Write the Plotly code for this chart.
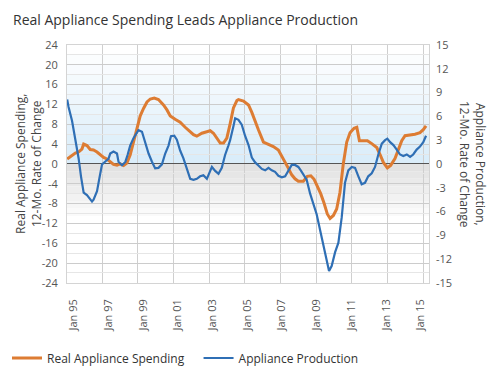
import plotly.graph_objects as go

# ---- data (decimal years; spending on left axis, production on right axis) ----
spend_x = [1994.63, 1994.81, 1995.10, 1995.29, 1995.48, 1995.58, 1995.77, 1995.96, 1996.15, 1996.35,
           1996.54, 1996.73, 1996.92, 1997.11, 1997.30, 1997.50, 1997.69, 1997.88, 1998.07, 1998.26,
           1998.45, 1998.65, 1998.84, 1999.03, 1999.23, 1999.42, 1999.65, 1999.89, 2000.18, 2000.38,
           2000.57, 2000.85, 2001.14, 2001.43, 2001.72, 2001.91, 2002.10, 2002.39, 2002.68, 2002.87,
           2003.06, 2003.26, 2003.45, 2003.64, 2003.83, 2004.02, 2004.21, 2004.41, 2004.50, 2004.79,
           2005.08, 2005.27, 2005.46, 2005.65, 2005.94, 2006.23, 2006.51, 2006.80, 2007.00, 2007.19,
           2007.38, 2007.57, 2007.76, 2007.95, 2008.24, 2008.47, 2008.67, 2008.86, 2009.05, 2009.24,
           2009.43, 2009.62, 2009.78, 2009.97, 2010.16, 2010.35, 2010.54, 2010.74, 2010.93, 2011.16,
           2011.32, 2011.47, 2011.70, 2011.93, 2012.18, 2012.47, 2012.66, 2012.85, 2013.08, 2013.27,
           2013.52, 2013.71, 2013.91, 2014.10, 2014.38, 2014.67, 2014.96, 2015.15, 2015.31]
spend_y = [1.0, 1.45, 2.2, 2.4, 3.0, 4.0, 3.7, 2.9, 2.8, 2.4,
           1.8, 1.3, 1.0, 0.5, -0.1, -0.25, 0.0, -0.3, 0.2, 1.8,
           4.6, 7.1, 9.7, 11.2, 12.5, 13.1, 13.3, 13.0, 11.9, 10.9,
           9.7, 9.0, 8.4, 7.4, 6.5, 5.9, 5.6, 6.2, 6.5, 6.7,
           6.2, 5.2, 4.2, 4.2, 5.2, 8.1, 11.3, 12.8, 13.0, 12.7,
           11.9, 10.4, 8.5, 6.9, 4.4, 3.9, 3.5, 2.8, 1.6, 0.3,
           -0.9, -2.2, -3.0, -3.5, -3.5, -2.5, -2.4, -3.1, -4.4, -6.0,
           -7.9, -10.1, -11.0, -10.4, -9.1, -5.7, 0.0, 4.4, 6.3, 7.2,
           7.4, 4.7, 4.7, 4.7, 4.1, 3.3, 1.9, 0.3, -0.8, -0.3,
           1.1, 2.8, 4.7, 5.7, 5.8, 6.0, 6.3, 6.9, 7.7]

prod_x = [1994.63, 1994.71, 1994.91, 1995.10, 1995.29, 1995.43, 1995.58, 1995.77, 1995.96, 1996.06,
          1996.15, 1996.35, 1996.50, 1996.64, 1996.83, 1997.01, 1997.11, 1997.30, 1997.50, 1997.59,
          1997.79, 1997.98, 1998.11, 1998.26, 1998.45, 1998.65, 1998.74, 1998.94, 1999.13, 1999.32,
          1999.51, 1999.70, 1999.89, 2000.09, 2000.28, 2000.47, 2000.61, 2000.80, 2000.95, 2001.14,
          2001.33, 2001.53, 2001.72, 2001.91, 2002.10, 2002.29, 2002.48, 2002.68, 2002.83, 2002.97,
          2003.16, 2003.35, 2003.54, 2003.73, 2003.92, 2004.02, 2004.21, 2004.31, 2004.50, 2004.69,
          2004.88, 2005.08, 2005.27, 2005.46, 2005.65, 2005.85, 2006.04, 2006.23, 2006.42, 2006.61,
          2006.80, 2007.00, 2007.19, 2007.38, 2007.57, 2007.76, 2007.95, 2008.09, 2008.24, 2008.43,
          2008.63, 2008.82, 2009.01, 2009.20, 2009.39, 2009.59, 2009.72, 2009.87, 2010.07, 2010.26,
          2010.45, 2010.64, 2010.83, 2011.03, 2011.22, 2011.41, 2011.60, 2011.79, 2011.98, 2012.18,
          2012.37, 2012.56, 2012.76, 2012.95, 2013.08, 2013.24, 2013.43, 2013.62, 2013.81, 2014.00,
          2014.20, 2014.39, 2014.57, 2014.77, 2014.96, 2015.15, 2015.31]
prod_y = [8.13, 7.19, 5.44, 3.06, 0.69, -1.63, -3.63, -3.94, -4.44, -4.75,
          -4.5, -3.44, -1.63, -0.06, 0.31, 0.63, 1.31, 1.56, 1.31, 0.25,
          -0.16, 0.25, 1.13, 2.31, 3.25, 3.88, 4.25, 4.06, 2.5, 1.31,
          0.31, -0.56, -0.5, -0.06, 1.31, 2.31, 3.5, 3.56, 3.06, 1.69,
          0.69, -0.5, -1.88, -2.0, -1.88, -1.56, -1.44, -1.88, -1.19, -0.38,
          -0.88, -1.25, -0.5, 1.13, 2.31, 3.0, 4.75, 5.75, 5.56, 4.94,
          3.56, 2.38, 0.81, 0.19, -0.19, -0.63, -0.81, -0.5, -0.81, -1.0,
          -1.5, -1.69, -1.56, -0.81, -0.13, -0.13, -0.38, -0.81, -1.38, -2.0,
          -3.75, -5.19, -6.38, -8.31, -10.31, -12.5, -13.5, -12.88, -11.13, -9.94,
          -6.75, -2.38, -0.81, -0.38, -0.5, -1.56, -2.56, -2.38, -1.56, -1.19,
          -0.38, 1.19, 2.56, 3.0, 3.19, 2.75, 2.38, 1.81, 1.19, 1.0,
          1.19, 0.88, 1.19, 1.81, 2.19, 2.75, 3.56]

x_tick_vals = [1995, 1997, 1999, 2001, 2003, 2005, 2007, 2009, 2011, 2013, 2015]
x_tick_text = ["Jan 95", "Jan 97", "Jan 99", "Jan 01", "Jan 03", "Jan 05",
               "Jan 07", "Jan 09", "Jan 11", "Jan 13", "Jan 15"]
left_ticks = [24, 20, 16, 12, 8, 4, 0, -4, -8, -12, -16, -20, -24]
right_ticks = [15, 12, 9, 6, 3, 0, -3, -6, -9, -12, -15]

ORANGE = "#DD7C33"
BLUE = "#2F6FB5"
FONT = "Open Sans"
NBSP = "\u00a0"

fig = go.Figure()
fig.add_trace(go.Scatter(x=spend_x, y=spend_y, name="Real Appliance Spending" + NBSP * 3, mode="lines",
                         line=dict(color=ORANGE, width=3), yaxis="y"))
fig.add_trace(go.Scatter(x=prod_x, y=prod_y, name="Appliance Production", mode="lines",
                         line=dict(color=BLUE, width=2.2), yaxis="y2"))

# background gradient bands (blue above zero, grey below)
shapes = []
n_up = 12
for i in range(n_up):
    t = i / (n_up - 1)
    r = int(218 + (255 - 218) * t)
    g = int(237 + (255 - 237) * t)
    b = int(250 + (255 - 250) * t)
    shapes.append(dict(type="rect", xref="paper", yref="y", x0=0, x1=1, y0=i * 2, y1=i * 2 + 2,
                       fillcolor=f"rgb({r},{g},{b})", line=dict(width=0), layer="below"))
n_dn = 8
for i in range(n_dn):
    t = i / (n_dn - 1)
    c = int(226 + (255 - 226) * t)
    shapes.append(dict(type="rect", xref="paper", yref="y", x0=0, x1=1, y0=-i * 1.5, y1=-i * 1.5 - 1.5,
                       fillcolor=f"rgb({c},{c},{c})", line=dict(width=0), layer="below"))

fig.update_layout(
    width=500, height=375,
    margin=dict(l=67, r=71, t=45, b=79),
    paper_bgcolor="white", plot_bgcolor="white",
    font=dict(family=FONT, color="#444", size=11),
    title=dict(text="Real Appliance Spending Leads Appliance Production",
               x=13 / 500, xref="container", xanchor="left",
               y=1 - 20 / 375, yref="container", yanchor="middle",
               font=dict(family=FONT, size=14, color="#333")),
    shapes=shapes,
    showlegend=True,
    legend=dict(orientation="h", xref="container", yref="container",
                x=0.014, y=1 - 358 / 375, xanchor="left", yanchor="middle",
                font=dict(family=FONT, size=12, color="#333"), bgcolor="rgba(0,0,0,0)"),
    xaxis=dict(range=[1994.62, 2015.48], tickmode="array", tickvals=x_tick_vals, ticktext=x_tick_text,
               tickangle=-90, showgrid=False, zeroline=False, ticks="", ticklabelstandoff=11,
               showline=True, mirror=True, linecolor="#d4d4d4", linewidth=1,
               minor=dict(tickmode="linear", tick0=1996.65, dtick=2.055, showgrid=True,
                          gridcolor="#cfcfcf", gridwidth=1, ticks=""),
               tickfont=dict(size=11, color="#555")),
    yaxis=dict(range=[-24, 24], tickmode="array", tickvals=left_ticks,
               ticktext=[str(v) for v in left_ticks],
               showgrid=True, gridcolor="#cccccc", gridwidth=1,
               minor=dict(tickmode="linear", tick0=0, dtick=2, showgrid=True, gridcolor="#e6e6e6"),
               zeroline=True, zerolinecolor="#555", zerolinewidth=1.2,
               showline=True, mirror=True, linecolor="#d4d4d4", ticks="", ticklabelstandoff=6,
               tickfont=dict(size=11, color="#555")),
    yaxis2=dict(range=[-15, 15], overlaying="y", side="right", tickmode="array",
                tickvals=right_ticks, ticktext=[str(v) for v in right_ticks],
                showgrid=False, zeroline=False, ticks="", ticklabelstandoff=6,
                tickfont=dict(size=11, color="#555")),
    annotations=[
        dict(text="Real Appliance Spending,<br>12-Mo. Rate of Change", xref="paper", yref="paper",
             x=(29 - 67) / 362, y=0.5, textangle=-90, showarrow=False,
             font=dict(family=FONT, size=12, color="#444"), xanchor="center", yanchor="middle"),
        dict(text="Appliance Production,<br>12-Mo. Rate of Change", xref="paper", yref="paper",
             x=(472 - 67) / 362, y=0.5, textangle=90, showarrow=False,
             font=dict(family=FONT, size=12, color="#444"), xanchor="center", yanchor="middle"),
    ],
)

fig.write_html("out.html", config={"displayModeBar": False},
               post_script="document.body.style.margin='0';")
